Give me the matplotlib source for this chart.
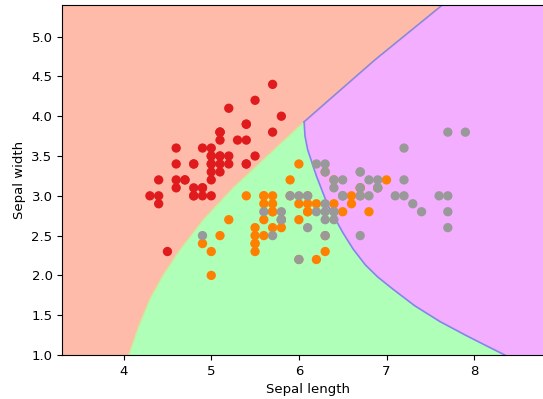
import numpy as np
import matplotlib
matplotlib.use("Agg")
import matplotlib.pyplot as plt

# iris: sepal length / sepal width, 50 samples per species
setosa_len = [5.1, 4.9, 4.7, 4.6, 5.0, 5.4, 4.6, 5.0, 4.4, 4.9, 5.4, 4.8, 4.8, 4.3, 5.8, 5.7, 5.4, 5.1, 5.7, 5.1,
              5.4, 5.1, 4.6, 5.1, 4.8, 5.0, 5.0, 5.2, 5.2, 4.7, 4.8, 5.4, 5.2, 5.5, 4.9, 5.0, 5.5, 4.9, 4.4, 5.1,
              5.0, 4.5, 4.4, 5.0, 5.1, 4.8, 5.1, 4.6, 5.3, 5.0]
setosa_wid = [3.5, 3.0, 3.2, 3.1, 3.6, 3.9, 3.4, 3.4, 2.9, 3.1, 3.7, 3.4, 3.0, 3.0, 4.0, 4.4, 3.9, 3.5, 3.8, 3.8,
              3.4, 3.7, 3.6, 3.3, 3.4, 3.0, 3.4, 3.5, 3.4, 3.2, 3.1, 3.4, 4.1, 4.2, 3.1, 3.2, 3.5, 3.6, 3.0, 3.4,
              3.5, 2.3, 3.2, 3.5, 3.8, 3.0, 3.8, 3.2, 3.7, 3.3]
versicolor_len = [7.0, 6.4, 6.9, 5.5, 6.5, 5.7, 6.3, 4.9, 6.6, 5.2, 5.0, 5.9, 6.0, 6.1, 5.6, 6.7, 5.6, 5.8, 6.2, 5.6,
                  5.9, 6.1, 6.3, 6.1, 6.4, 6.6, 6.8, 6.7, 6.0, 5.7, 5.5, 5.5, 5.8, 6.0, 5.4, 6.0, 6.7, 6.3, 5.6, 5.5,
                  5.5, 6.1, 5.8, 5.0, 5.6, 5.7, 5.7, 6.2, 5.1, 5.7]
versicolor_wid = [3.2, 3.2, 3.1, 2.3, 2.8, 2.8, 3.3, 2.4, 2.9, 2.7, 2.0, 3.0, 2.2, 2.9, 2.9, 3.1, 3.0, 2.7, 2.2, 2.5,
                  3.2, 2.8, 2.5, 2.8, 2.9, 3.0, 2.8, 3.0, 2.9, 2.6, 2.4, 2.4, 2.7, 2.7, 3.0, 3.4, 3.1, 2.3, 3.0, 2.5,
                  2.6, 3.0, 2.6, 2.3, 2.7, 3.0, 2.9, 2.9, 2.5, 2.8]
virginica_len = [6.3, 5.8, 7.1, 6.3, 6.5, 7.6, 4.9, 7.3, 6.7, 7.2, 6.5, 6.4, 6.8, 5.7, 5.8, 6.4, 6.5, 7.7, 7.7, 6.0,
                 6.9, 5.6, 7.7, 6.3, 6.7, 7.2, 6.2, 6.1, 6.4, 7.2, 7.4, 7.9, 6.4, 6.3, 6.1, 7.7, 6.3, 6.4, 6.0, 6.9,
                 6.7, 6.9, 5.8, 6.8, 6.7, 6.7, 6.3, 6.5, 6.2, 5.9]
virginica_wid = [3.3, 2.7, 3.0, 2.9, 3.0, 3.0, 2.5, 2.9, 2.5, 3.6, 3.2, 2.7, 3.0, 2.5, 2.8, 3.2, 3.0, 3.8, 2.6, 2.2,
                 3.2, 2.8, 2.8, 2.7, 3.3, 3.2, 2.8, 3.0, 2.8, 3.0, 2.8, 3.8, 2.8, 2.8, 2.6, 3.0, 3.4, 3.1, 3.0, 3.1,
                 3.1, 3.1, 2.7, 3.2, 3.3, 3.0, 2.5, 3.0, 3.4, 3.0]

# decision boundaries of the fitted classifier (sepal length at given sepal width)
setosa_versicolor_y = [1.0, 1.35, 1.7, 2.0, 2.3, 2.7, 3.1, 3.5, 3.93]
setosa_versicolor_x = [4.06, 4.17, 4.30, 4.45, 4.63, 4.91, 5.25, 5.64, 6.06]
versicolor_virginica_y = [3.93, 3.75, 3.58, 3.25, 2.88, 2.54, 2.33, 2.13, 1.98, 1.83, 1.62, 1.42, 1.25, 1.11, 1.0]
versicolor_virginica_x = [6.06, 6.07, 6.10, 6.20, 6.33, 6.50, 6.62, 6.76, 6.90, 7.07, 7.32, 7.61, 7.90, 8.15, 8.35]
setosa_virginica_y = [3.93, 4.21, 4.71, 5.4]
setosa_virginica_x = [6.06, 6.35, 6.87, 7.64]

light = ['#FFBBAA', '#AFFFB9', '#F4AEFF']
bold = ['#E01B1E', '#FF8000', '#999999']

x_min, x_max = min(setosa_len) - 1, max(virginica_len) + 1
y_min, y_max = min(versicolor_wid) - 1, max(setosa_wid) + 1

fig = plt.figure(figsize=(5.43, 3.99), dpi=100)
ax = fig.add_axes([0.1147, 0.1103, 0.9037, 0.8777])
ax.set_facecolor(light[2])

# setosa region: left of the setosa/versicolor and setosa/virginica boundaries
red_x = [x_min] + setosa_versicolor_x + setosa_virginica_x[1:] + [x_min]
red_y = [y_min] + setosa_versicolor_y + setosa_virginica_y[1:] + [y_max]
ax.fill(red_x, red_y, color=light[0], lw=0)

# versicolor region: between setosa and virginica boundaries
green_x = setosa_versicolor_x + versicolor_virginica_x[1:]
green_y = setosa_versicolor_y + versicolor_virginica_y[1:]
ax.fill(green_x, green_y, color=light[1], lw=0)

ax.plot(setosa_versicolor_x, setosa_versicolor_y, color='#CDEB96', lw=1.0)
ax.plot(versicolor_virginica_x, versicolor_virginica_y, color='#8484EE', lw=1.2)
ax.plot(setosa_virginica_x, setosa_virginica_y, color='#8C88D8', lw=1.2)

for lens, wids, col in zip([setosa_len, versicolor_len, virginica_len],
                           [setosa_wid, versicolor_wid, virginica_wid], bold):
    ax.scatter(lens, wids, color=col, s=45, edgecolors='none', zorder=3)

ax.set_xlim(x_min, x_max)
ax.set_ylim(y_min, y_max)
ax.tick_params(labelsize=9.5)
ax.set_xlabel('Sepal length', fontsize=9.5)
ax.set_ylabel('Sepal width', fontsize=9.5)

fig.savefig('out.png', dpi=100)
